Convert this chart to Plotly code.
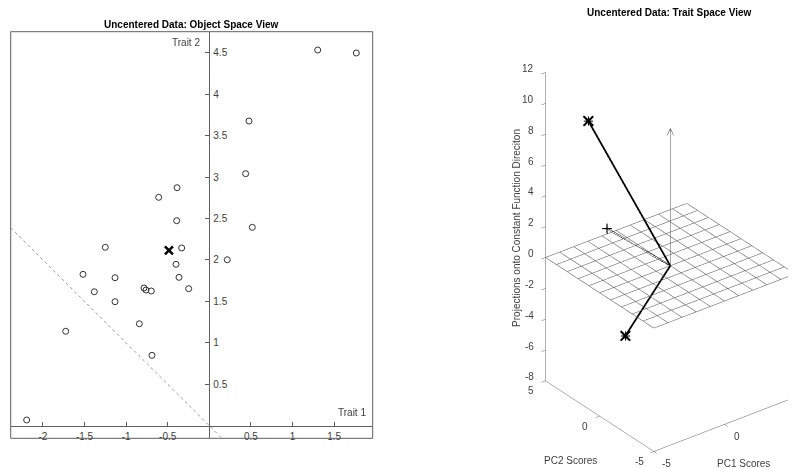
import numpy as np
import plotly.graph_objects as go

# ---------------- data ----------------
trait1 = [1.303, 1.767, 0.477, 0.437, -0.388, -0.608, -0.392, 0.517,
          -1.250, -0.332, 0.216, -0.400, -1.518, -1.133, -0.364, -0.785,
          -0.761, -0.697, -0.248, -1.382, -1.133, -0.841, -1.726, -0.689, -2.195]
trait2 = [4.532, 4.496, 3.675, 3.040, 2.871, 2.755, 2.473, 2.393,
          2.152, 2.144, 2.002, 1.947, 1.826, 1.785, 1.790, 1.661,
          1.637, 1.625, 1.653, 1.616, 1.496, 1.230, 1.139, 0.849, 0.069]

x_ticks = [-2, -1.5, -1, -0.5, 0.5, 1, 1.5]
y_ticks = [0.5, 1, 1.5, 2, 2.5, 3, 3.5, 4, 4.5]
pc_ticks = [-5, 0, 5]
z_ticks = [-8, -6, -4, -2, 0, 2, 4, 6, 8, 10, 12]
grid_vals = list(range(-5, 6))
arrow_len = 8.9

# ---------------- derived quantities ----------------
X = np.column_stack([trait1, trait2])
n = X.shape[0]
means = X.mean(axis=0)
Xc = X - means
U, S, Vt = np.linalg.svd(Xc, full_matrices=False)
coords = (S[:, None] * Vt).T          # rows = traits, cols = PC1, PC2
if coords[:, 0].sum() > 0:
    coords[:, 0] *= -1
if coords[0, 1] > 0:
    coords[:, 1] *= -1
zproj = np.sqrt(n) * means            # projection on constant direction
stars_x, stars_y, stars_z = coords[:, 0], coords[:, 1], zproj
plus = (coords[:, 0].mean(), coords[:, 1].mean(), zproj.mean())

FONT = "Liberation Sans, Arial, sans-serif"
LINE = "#606060"
TXT = "#404040"

# page is offset by the 8px body margin: work in page pixels, convert
OFF = 8
W, H = 796 - OFF, 468 - OFF
def fx(px):
    return (px - OFF) / W
def fy(py):
    return 1 - (py - OFF) / H

fig = go.Figure()

# ---------------- left panel ----------------
xr = [-2.387, 1.964]
yr = [-0.152, 4.753]
fig.add_trace(go.Scatter(x=[-3, 3], y=[3, -3], mode="lines",
                         line=dict(color="#9a9a9a", width=1, dash="dot"),
                         hoverinfo="skip", showlegend=False))
fig.add_trace(go.Scatter(x=trait1, y=trait2, mode="markers",
                         marker=dict(symbol="circle-open", size=6,
                                     color="#333333", line=dict(width=1)),
                         showlegend=False))
fig.add_trace(go.Scatter(x=[means[0]], y=[means[1]], mode="markers",
                         marker=dict(symbol="x-thin-open", size=8,
                                     color="black", line=dict(width=2.5, color="black")),
                         showlegend=False))
fig.add_trace(go.Scatter(x=[None], y=[None], xaxis="x", yaxis="y2",
                         showlegend=False, hoverinfo="skip"))

tickfont = dict(family=FONT, size=10, color=TXT)
fig.update_layout(
    xaxis=dict(domain=[fx(10.7), fx(372.7)], range=xr, anchor="free",
               position=fy(425.7), tickvals=x_ticks,
               ticktext=[f"{v:g}" for v in x_ticks], ticks="inside",
               ticklen=4, tickcolor=LINE, showline=True, linecolor=LINE,
               linewidth=1, showgrid=False, zeroline=False, automargin=False,
               ticklabelstandoff=1, tickfont=tickfont),
    yaxis=dict(domain=[fy(438.3), fy(31.7)], range=yr, anchor="free",
               position=fx(209.3), tickvals=y_ticks, showticklabels=False,
               ticks="outside", ticklen=4, tickcolor=LINE,
               showline=True, linecolor=LINE, linewidth=1, showgrid=False,
               zeroline=False, automargin=False),
    yaxis2=dict(overlaying="y", matches="y", side="right", anchor="free",
                position=fx(209.3), range=yr, tickvals=y_ticks,
                ticktext=[f"{v:g}" for v in y_ticks], ticks="",
                showline=False, showgrid=False, zeroline=False,
                automargin=False, ticklabelstandoff=3, tickfont=tickfont),
)
fig.add_shape(type="rect", xref="x domain", yref="y domain", x0=0, x1=1,
              y0=0, y1=1, layer="below", line=dict(color=LINE, width=1))

annotations = [
    dict(text="Trait 2", x=-0.088, y=4.62, xref="x", yref="y",
         xanchor="right", yanchor="middle", showarrow=False, font=tickfont),
    dict(text="Trait 1", x=1.907, y=0.165, xref="x", yref="y",
         xanchor="right", yanchor="middle", showarrow=False, font=tickfont),
    dict(text="<b>Uncentered Data: Object Space View</b>", x=fx(191.7),
         y=fy(24.3), xref="paper", yref="paper", xanchor="center",
         yanchor="middle", showarrow=False,
         font=dict(family=FONT, size=10, color="black")),
    dict(text="<b>Uncentered Data: Trait Space View</b>", x=fx(669.7),
         y=fy(12.3), xref="paper", yref="paper", xanchor="center",
         yanchor="middle", showarrow=False,
         font=dict(family=FONT, size=10, color="black")),
]

# ---------------- right panel (3-D) ----------------
gx, gy, gz = [], [], []
for v in grid_vals:
    gx += [v, v, None]; gy += [grid_vals[0], grid_vals[-1], None]; gz += [0, 0, None]
    gx += [grid_vals[0], grid_vals[-1], None]; gy += [v, v, None]; gz += [0, 0, None]
fig.add_trace(go.Scatter3d(x=gx, y=gy, z=gz, mode="lines",
                           line=dict(color="#505050", width=1),
                           hoverinfo="skip", showlegend=False, scene="scene"))
# vertical arrow (constant function direction)
fig.add_trace(go.Scatter3d(x=[0, 0], y=[0, 0], z=[0, arrow_len], mode="lines",
                           line=dict(color="#505050", width=1),
                           showlegend=False, scene="scene"))
ah = 0.45
fig.add_trace(go.Scatter3d(x=[0.15, 0, -0.15], y=[-0.11, 0, 0.11],
                           z=[arrow_len - ah, arrow_len, arrow_len - ah],
                           mode="lines", line=dict(color="#505050", width=1),
                           showlegend=False, scene="scene"))
# trait vectors
for i in range(2):
    fig.add_trace(go.Scatter3d(x=[0, stars_x[i]], y=[0, stars_y[i]],
                               z=[0, stars_z[i]], mode="lines",
                               line=dict(color="black", width=3.5),
                               showlegend=False, scene="scene"))
fig.add_trace(go.Scatter3d(x=[0, plus[0]], y=[0, plus[1]], z=[0, plus[2]],
                           mode="lines", line=dict(color="black", width=4, dash="dot"),
                           showlegend=False, scene="scene"))
fig.add_trace(go.Scatter3d(x=stars_x, y=stars_y, z=stars_z, mode="markers",
                           marker=dict(symbol="cross", size=5, color="black"),
                           showlegend=False, scene="scene"))
fig.add_trace(go.Scatter3d(x=stars_x, y=stars_y, z=stars_z, mode="markers",
                           marker=dict(symbol="x", size=2.4, color="black"),
                           showlegend=False, scene="scene"))
fig.add_trace(go.Scatter3d(x=[plus[0]], y=[plus[1]], z=[plus[2]], mode="markers",
                           marker=dict(symbol="cross", size=5.5, color="black"),
                           showlegend=False, scene="scene"))

def ax3(rng, tv):
    return dict(title=dict(text=""), range=rng, autorange=False, tickvals=tv,
                showticklabels=False, showbackground=False,
                showgrid=False, zeroline=False, showline=True, linecolor=LINE,
                linewidth=1, ticks="outside", ticklen=5, tickcolor=LINE,
                showspikes=False)

# MATLAB default view (az = -37.5, el = 30), orthographic, equal data aspect
el = np.radians(30.0)
az = np.radians(37.5)
p, q = np.sin(az), np.cos(az)
Vdir = np.array([-np.cos(el) * p, -np.cos(el) * q, np.sin(el)])
Rdir = np.array([q, -p, 0.0])
Udir = np.array([np.sin(el) * p, np.sin(el) * q, np.cos(el)])

dom_px = (496, 796, 30, 468)          # left, right, top, bottom (page px)
vp_cx = (dom_px[0] + dom_px[1]) / 2
vp_cy = (dom_px[2] + dom_px[3]) / 2
half_h = (dom_px[3] - dom_px[2]) / 2   # px per normalised unit
px_per_unit = 17.8                     # page px per data unit
s_norm = px_per_unit / half_h
box_center_px = (670.3, 234.9)         # where the box centre sits on the page
dr = (box_center_px[0] - vp_cx) / half_h
du = (vp_cy - box_center_px[1]) / half_h
center = -(dr * Rdir + du * Udir)
eye = center + 3.0 * Vdir

scene_ann = []
for z in z_ticks:
    scene_ann.append(dict(x=-5, y=5, z=z, text=f"{z:g}", showarrow=False,
                          xanchor="right", yanchor="middle", xshift=-9.6,
                          yshift=4, font=tickfont))
for v in pc_ticks:
    scene_ann.append(dict(x=-5, y=v, z=-8, text=f"{v:g}", showarrow=False,
                          xanchor="center", yanchor="middle", xshift=-14.5,
                          yshift=-10, font=tickfont))
    scene_ann.append(dict(x=v, y=-5, z=-8, text=f"{v:g}", showarrow=False,
                          xanchor="center", yanchor="middle", xshift=12.5,
                          yshift=-12, font=tickfont))
scene_ann += [
    dict(x=-5, y=0, z=-8, text="PC2 Scores", showarrow=False,
         xanchor="center", yanchor="middle", xshift=-29.3, yshift=-44.1,
         font=tickfont),
    dict(x=0, y=-5, z=-8, text="PC1 Scores", showarrow=False,
         xanchor="center", yanchor="middle", xshift=18.7, yshift=-39.6,
         font=tickfont),
    dict(x=-5, y=5, z=2, text="Projections onto Constant Function Direciton",
         showarrow=False, textangle=-90, xanchor="center", yanchor="middle",
         xshift=-29.8, yshift=-1.5, font=tickfont),
]

fig.update_layout(
    scene=dict(
        domain=dict(x=[fx(dom_px[0]), fx(dom_px[1])],
                    y=[fy(dom_px[3]), fy(dom_px[2])]),
        xaxis=ax3([-5, 5], pc_ticks),
        yaxis=ax3([-5, 5], pc_ticks),
        zaxis=ax3([-8, 12], z_ticks),
        aspectmode="manual",
        aspectratio=dict(x=10 * s_norm, y=10 * s_norm, z=20 * s_norm),
        camera=dict(projection=dict(type="orthographic"),
                    up=dict(x=0, y=0, z=1),
                    center=dict(x=center[0], y=center[1], z=center[2]),
                    eye=dict(x=eye[0], y=eye[1], z=eye[2])),
        bgcolor="white",
        annotations=scene_ann,
    ),
    annotations=annotations,
    width=W, height=H,
    margin=dict(l=0, r=0, t=0, b=0),
    paper_bgcolor="white", plot_bgcolor="white",
    showlegend=False,
)

fig.write_html("out.html")
